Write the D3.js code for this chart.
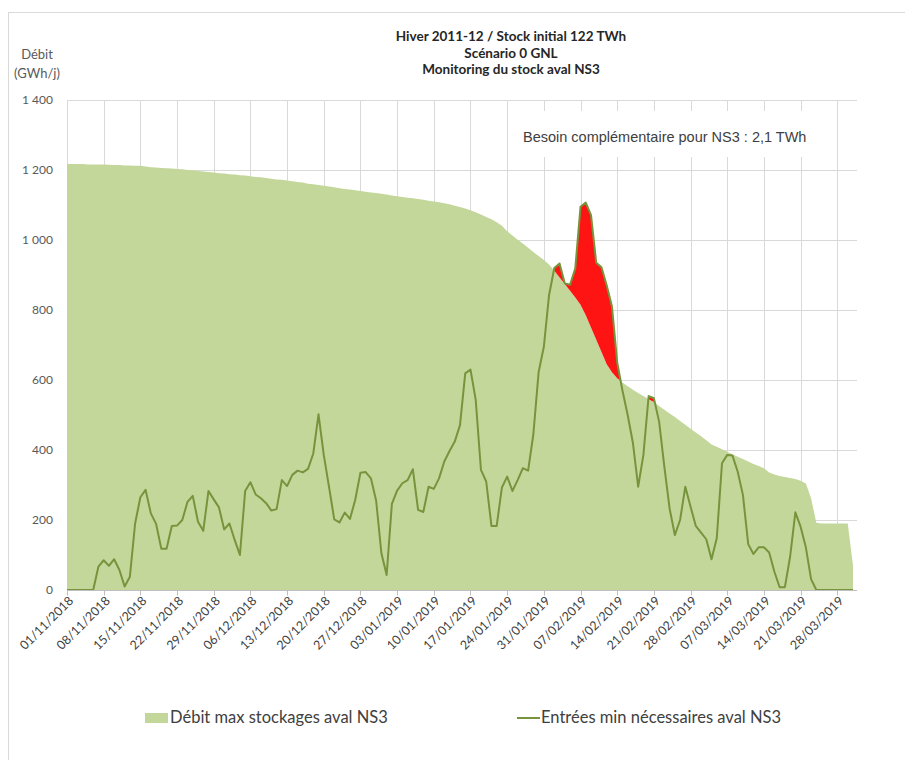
<!DOCTYPE html>
<html>
<head>
<meta charset="utf-8">
<script src="https://cdn.jsdelivr.net/npm/d3@7"></script>
<style>
    body { margin: 0; background: #fff; }
    text { font-family: Lato, "Open Sans", sans-serif; }
</style>
</head>
<body>
<div id="vis-container"></div>
<script>
// Chart data (daily values from 01/11/2018 to 31/03/2019)
var startDate = "01/11/2018";

// Débit max stockages aval NS3 (GWh/j)
var maxStock = [
    1217, 1217, 1217, 1217, 1216, 1216, 1216, 1216, 1215, 1214,
    1214, 1213, 1213, 1212, 1212, 1210, 1208, 1207, 1206, 1205,
    1204, 1203, 1202, 1200, 1199, 1197, 1196, 1194, 1193, 1191,
    1190, 1188, 1187, 1185, 1184, 1182, 1180, 1179, 1177, 1175,
    1173, 1172, 1170, 1168, 1166, 1164, 1161, 1159, 1157, 1155,
    1153, 1151, 1148, 1146, 1144, 1142, 1140, 1138, 1136, 1134,
    1132, 1130, 1127, 1125, 1123, 1121, 1119, 1117, 1115, 1112,
    1110, 1108, 1105, 1102, 1098, 1094, 1090, 1085, 1079, 1073,
    1066, 1059, 1051, 1041, 1025, 1013, 1001, 990, 978, 966,
    954, 943, 930, 912, 893, 874, 855, 836, 815, 785,
    750, 715, 680, 645, 622, 605, 593, 582, 572, 563,
    554, 545, 537, 526, 515, 504, 494, 483, 472, 461,
    450, 439, 428, 416, 409, 402, 395, 388, 381, 374,
    367, 360, 354, 348, 336, 330, 326, 323, 320, 317,
    312, 304, 262, 192, 190, 190, 190, 190, 190, 190,
    70
];

// Entrées min nécessaires aval NS3 (GWh/j)
var minInputs = [
    0, 0, 0, 0, 0, 0, 67, 85, 69, 88,
    57, 10, 38, 190, 265, 286, 219, 189, 118, 118,
    183, 184, 200, 252, 269, 195, 169, 283, 259, 236,
    173, 190, 143, 100, 283, 308, 273, 262, 248, 227,
    231, 314, 297, 329, 341, 336, 346, 390, 502, 386,
    295, 202, 193, 221, 203, 257, 335, 337, 319, 255,
    105, 43, 246, 284, 305, 314, 345, 229, 223, 295,
    289, 319, 367, 397, 424, 471, 619, 630, 543, 343,
    310, 183, 183, 293, 324, 283, 314, 348, 341, 445,
    622, 695, 843, 920, 933, 876, 872, 919, 1095, 1107,
    1071, 935, 922, 870, 810, 650, 570, 500, 420, 295,
    386, 554, 548, 481, 352, 233, 157, 200, 295, 238,
    183, 164, 145, 88, 148, 362, 386, 384, 338, 271,
    131, 103, 122, 122, 107, 52, 8, 8, 95, 222,
    181, 122, 31, 0, 0, 0, 0, 0, 0, 0,
    0
];

var tickLabels = ["01/11/2018", "08/11/2018", "15/11/2018", "22/11/2018", "29/11/2018",
    "06/12/2018", "13/12/2018", "20/12/2018", "27/12/2018", "03/01/2019", "10/01/2019",
    "17/01/2019", "24/01/2019", "31/01/2019", "07/02/2019", "14/02/2019", "21/02/2019",
    "28/02/2019", "07/03/2019", "14/03/2019", "21/03/2019", "28/03/2019"];
var yTicks = [0, 200, 400, 600, 800, 1000, 1200, 1400];

var titleLines = ["Hiver 2011-12 / Stock initial 122 TWh", "Scénario 0 GNL", "Monitoring du stock aval NS3"];
var note = "Besoin complémentaire pour NS3 : 2,1 TWh";
var legendArea = "Débit max stockages aval NS3";
var legendLine = "Entrées min nécessaires aval NS3";

// Layout
var width = 905, height = 760;
var plot = { left: 67, right: 857, top: 100, bottom: 590 };
var colArea = "#c4d79b", colLine = "#77933c", colRed = "#ff1414", colGrid = "#d9d9d9", colText = "#595959";

var parse = d3.utcParse("%d/%m/%Y");
var t0 = parse(startDate);
var dayMs = 864e5;
function dateAt(i) { return new Date(t0.getTime() + i * dayMs); }

var svg = d3.select("#vis-container").append("svg").attr("width", width).attr("height", height);

// chart frame
svg.append("rect").attr("x", 8.5).attr("y", 12.5).attr("width", width).attr("height", height)
    .attr("fill", "none").attr("stroke", colGrid);

var x = d3.scaleUtc().domain([t0, dateAt(150)]).range([plot.left, 853]);
var y = d3.scaleLinear().domain([0, 1400]).range([plot.bottom, plot.top]);

var tickDates = tickLabels.map(parse);

// grid
var grid = svg.append("g");
grid.selectAll(".hg").data(yTicks.slice(1)).join("line")
    .attr("x1", plot.left).attr("x2", plot.right)
    .attr("y1", function (d) { return Math.round(y(d)) + 0.5; })
    .attr("y2", function (d) { return Math.round(y(d)) + 0.5; })
    .attr("stroke", colGrid);
grid.selectAll(".vg").data(tickDates).join("line")
    .attr("x1", function (d) { return Math.round(x(d)) + 0.5; })
    .attr("x2", function (d) { return Math.round(x(d)) + 0.5; })
    .attr("y1", plot.top).attr("y2", plot.bottom)
    .attr("stroke", colGrid);

// note box (hides grid behind it)
svg.append("rect").attr("x", 508).attr("y", 111).attr("width", 322).attr("height", 46).attr("fill", "#fff");
svg.append("text").text(note).attr("x", 523).attr("y", 142)
    .attr("font-size", 14.5).attr("fill", "#404040")
    .style("font-family", "'Liberation Sans', Arial, sans-serif");

// series
var data = maxStock.map(function (v, i) { return { t: i, a: v, l: minInputs[i] }; });

svg.append("path").datum(data)
    .attr("fill", colArea)
    .attr("d", d3.area()
        .x(function (d) { return x(dateAt(d.t)); })
        .y0(y(0))
        .y1(function (d) { return y(d.a); }));

// excess of the line over the area, with crossing points added
var pts = [];
data.forEach(function (d, i) {
    pts.push(d);
    var n = data[i + 1];
    if (!n) return;
    var d0 = d.l - d.a, d1 = n.l - n.a;
    if ((d0 > 0 && d1 < 0) || (d0 < 0 && d1 > 0)) {
        var f = d0 / (d0 - d1);
        var av = d.a + f * (n.a - d.a);
        pts.push({ t: i + f, a: av, l: av });
    }
});
svg.append("path").datum(pts)
    .attr("fill", colRed)
    .attr("d", d3.area()
        .x(function (d) { return x(dateAt(d.t)); })
        .y0(function (d) { return y(d.a); })
        .y1(function (d) { return y(Math.max(d.a, d.l)); }));

svg.append("path").datum(data)
    .attr("fill", "none")
    .attr("stroke", colLine)
    .attr("stroke-width", 2)
    .attr("stroke-linejoin", "round")
    .attr("d", d3.line()
        .x(function (d) { return x(dateAt(d.t)); })
        .y(function (d) { return y(d.l); }));

// x axis
var xAxis = svg.append("g").attr("transform", "translate(0," + (plot.bottom + 0.5) + ")");
xAxis.append("line").attr("x1", plot.left).attr("x2", plot.right).attr("stroke", "#bfbfbf");
xAxis.selectAll(".tk").data(tickDates).join("line")
    .attr("x1", function (d) { return Math.round(x(d)) + 0.5; })
    .attr("x2", function (d) { return Math.round(x(d)) + 0.5; })
    .attr("y1", 0).attr("y2", 5).attr("stroke", "#bfbfbf");
xAxis.selectAll("text").data(tickLabels).join("text")
    .text(function (d) { return d; })
    .attr("transform", function (d) { return "translate(" + (x(parse(d)) + 4) + ",8) rotate(-45)"; })
    .attr("text-anchor", "end")
    .attr("dy", "0.35em")
    .attr("font-size", 12.5)
    .attr("fill", "#404040");

// y axis labels
svg.append("g").selectAll("text").data(yTicks).join("text")
    .text(function (d) { return d3.format(",")(d).replace(",", " "); })
    .attr("x", 53).attr("y", function (d) { return y(d); })
    .attr("dy", "0.35em")
    .attr("text-anchor", "end")
    .attr("font-size", 12)
    .attr("fill", colText);

svg.append("text").text("Débit").attr("x", 37).attr("y", 59).attr("text-anchor", "middle")
    .attr("font-size", 13).attr("fill", colText);
svg.append("text").text("(GWh/j)").attr("x", 37).attr("y", 78).attr("text-anchor", "middle")
    .attr("font-size", 13).attr("fill", colText);

// title
svg.append("g").selectAll("text").data(titleLines).join("text")
    .text(function (d) { return d; })
    .attr("x", 511).attr("y", function (d, i) { return 41 + i * 16.5; })
    .attr("text-anchor", "middle")
    .attr("font-size", 13.5)
    .attr("font-weight", "bold")
    .attr("fill", "#262626");

// legend
var lg = svg.append("g");
lg.append("rect").attr("x", 145).attr("y", 713).attr("width", 23).attr("height", 10).attr("fill", colArea);
lg.append("text").text(legendArea).attr("x", 170).attr("y", 723).attr("font-size", 16.5).attr("fill", "#404040");
lg.append("line").attr("x1", 517).attr("x2", 540).attr("y1", 718).attr("y2", 718)
    .attr("stroke", colLine).attr("stroke-width", 2);
lg.append("text").text(legendLine).attr("x", 541).attr("y", 723).attr("font-size", 16.5).attr("fill", "#404040");
</script>
</body>
</html>
